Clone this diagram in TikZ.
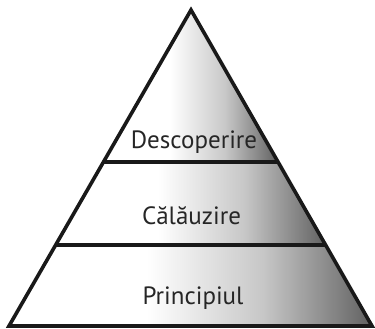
\documentclass[tikz,border=0pt]{standalone}
\usepackage{fontspec}
\setmainfont{PT Sans}
\pgfdeclarehorizontalshading{bandshade}{100bp}{color(0bp)=(white); color(25bp)=(white); color(44bp)=(white); color(60bp)=(black!22); color(75bp)=(black!62); color(100bp)=(black!62)}
\tikzset{
  band/.style={shading=bandshade},
  outline/.style={draw=black!90, line width=3.6pt, line join=miter},
  divider/.style={draw=black!90, line width=3.4pt},
  label/.style={anchor=base, font=\fontsize{25}{29}\selectfont, text=black!85, inner sep=0pt}
}
\begin{document}
\begin{tikzpicture}[x=1pt,y=1pt]
\useasboundingbox (0,0) rectangle (375,329);
\coordinate (apex) at (191,319);
\coordinate (bl) at (9,3);
\coordinate (br) at (372,3);
\coordinate (ml1) at (103.5,167);
\coordinate (mr1) at (278,167);
\coordinate (ml2) at (55.6,84);
\coordinate (mr2) at (325.6,84);
\shade[band] (apex) -- (ml1) -- (mr1) -- cycle;
\shade[band] (ml1) -- (ml2) -- (mr2) -- (mr1) -- cycle;
\shade[band] (ml2) -- (bl) -- (br) -- (mr2) -- cycle;
\draw[divider] (ml1) -- (mr1);
\draw[divider] (ml2) -- (mr2);
\draw[outline] (apex) -- (bl) -- (br) -- cycle;
\node[label] (t1) at (194,180) {Descoperire};
\node[label] (t2) at (191.5,104) {Călăuzire};
\node[label] (t3) at (193,24) {Principiul};
\end{tikzpicture}
\end{document}
